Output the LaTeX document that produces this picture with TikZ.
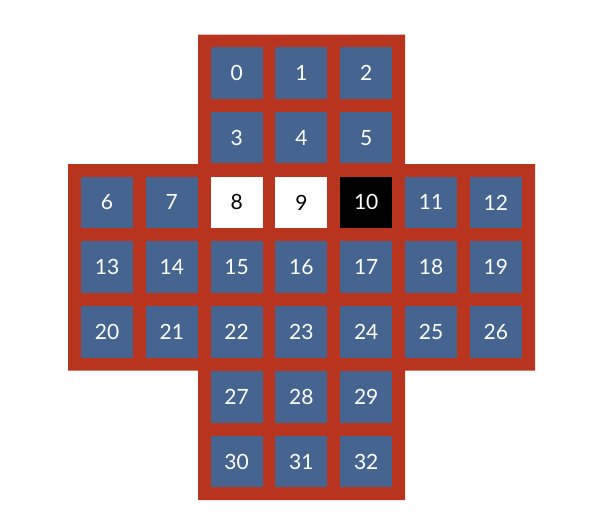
\documentclass[tikz,border=0pt]{standalone}
\usepackage{fontspec}
\setmainfont{Lato}
\definecolor{boardred}{RGB}{185,52,30}
\definecolor{holeblue}{RGB}{69,101,144}

\begin{document}
\begin{tikzpicture}[x=1pt, y=-1pt, line join=miter,
    hole/.style={fill=holeblue, text=white, minimum width=52pt, minimum height=51.5pt,
                 inner sep=0pt, font=\fontsize{21}{25}\selectfont},
    emptyhole/.style={hole, fill=white, text=black},
    lasthole/.style={hole, fill=black, text=white}]

  %% ════ 十字形底板 ════
  \fill[boardred] (198,34.5) -- (405,34.5) -- (405,164) -- (535,164) -- (535,370.5)
     -- (405,370.5) -- (405,500) -- (198,500) -- (198,370.5) -- (68,370.5)
     -- (68,164) -- (198,164) -- cycle;

  %% ════ 孔位（行 0--1：上臂）════
  \node[hole] (sq0)  at (236.6,72.8)  {0};
  \node[hole] (sq1)  at (301.4,72.8)  {1};
  \node[hole] (sq2)  at (366.2,72.8)  {2};
  \node[hole] (sq3)  at (236.6,137.6) {3};
  \node[hole] (sq4)  at (301.4,137.6) {4};
  \node[hole] (sq5)  at (366.2,137.6) {5};

  %% ════ 孔位（行 2--4：横臂）════
  \node[hole]      (sq6)  at (107.0,202.4) {6};
  \node[hole]      (sq7)  at (171.8,202.4) {7};
  \node[emptyhole] (sq8)  at (236.6,202.4) {8};   % 空
  \node[emptyhole] (sq9)  at (301.4,202.4) {9};   % 空
  \node[lasthole]  (sq10) at (366.2,202.4) {10};  % 黑
  \node[hole]      (sq11) at (431.0,202.4) {11};
  \node[hole]      (sq12) at (495.8,202.4) {12};
  \node[hole] (sq13) at (107.0,267.2) {13};
  \node[hole] (sq14) at (171.8,267.2) {14};
  \node[hole] (sq15) at (236.6,267.2) {15};
  \node[hole] (sq16) at (301.4,267.2) {16};
  \node[hole] (sq17) at (366.2,267.2) {17};
  \node[hole] (sq18) at (431.0,267.2) {18};
  \node[hole] (sq19) at (495.8,267.2) {19};
  \node[hole] (sq20) at (107.0,332.0) {20};
  \node[hole] (sq21) at (171.8,332.0) {21};
  \node[hole] (sq22) at (236.6,332.0) {22};
  \node[hole] (sq23) at (301.4,332.0) {23};
  \node[hole] (sq24) at (366.2,332.0) {24};
  \node[hole] (sq25) at (431.0,332.0) {25};
  \node[hole] (sq26) at (495.8,332.0) {26};

  %% ════ 孔位（行 5--6：下臂）════
  \node[hole] (sq27) at (236.6,396.8) {27};
  \node[hole] (sq28) at (301.4,396.8) {28};
  \node[hole] (sq29) at (366.2,396.8) {29};
  \node[hole] (sq30) at (236.6,461.6) {30};
  \node[hole] (sq31) at (301.4,461.6) {31};
  \node[hole] (sq32) at (366.2,461.6) {32};

  % 钉死画布
  \pgfresetboundingbox
  \path[use as bounding box] (0,0) rectangle (594,522);
\end{tikzpicture}
\end{document}
